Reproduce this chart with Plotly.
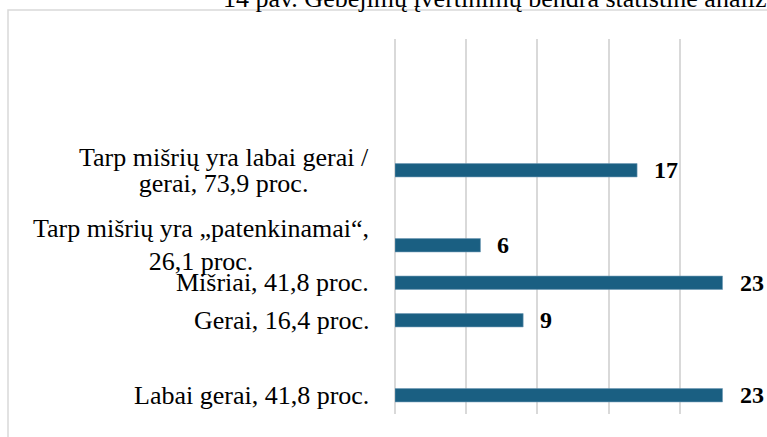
import plotly.graph_objects as go

# ---- data ----
categories = ["Tarp mišrių yra labai gerai /<br>gerai, 73,9 proc.",
              "Tarp mišrių yra „patenkinamai“,<br>26,1 proc.",
              "Mišriai, 41,8 proc.",
              "Gerai, 16,4 proc.",
              "Labai gerai, 41,8 proc."]
values = [17, 6, 23, 9, 23]
# category slots from top to bottom ("_g*" entries are empty gaps on the axis)
slot_order = ["_g9", "_g8", "_g7", categories[0], "_g5", categories[1],
              categories[2], categories[3], "_g1", categories[4]]
title_text = "14 pav. Gebėjimų įvertinimų bendra statistinė analizė"

# ---- style ----
BAR = "#1a5f82"
GRID = "#d9d9d9"
FONT = "Liberation Serif, Times New Roman, serif"
LABEL_SIZE = 26
VALUE_SIZE = 24
line_gap_base = [20, 25, 26, 26, 26]   # base font controlling line spacing per label

W, H = 767, 437
ML, MR, MT, MB = 395, 16, 39, 23
pw = W - ML - MR
ph = H - MT - MB

fig = go.Figure()
fig.add_trace(go.Bar(
    x=values, y=categories, orientation="h",
    marker=dict(color=BAR, line=dict(width=0.6, color="#6f9bb5")),
    hoverinfo="skip",
))

annotations = []
for c, v, base in zip(categories, values, line_gap_base):
    styled = "<br>".join('<span style="font-size:%dpx">%s</span>' % (LABEL_SIZE, part)
                         for part in c.split("<br>"))
    annotations.append(dict(x=0, xref="paper", y=c, yref="y", text=styled,
                            xanchor="right", yanchor="middle", align="center",
                            xshift=-24, showarrow=False,
                            font=dict(family=FONT, size=base, color="#000000")))
    annotations.append(dict(x=v, xref="x", y=c, yref="y", text="<b>%d</b>" % v,
                            xanchor="left", yanchor="middle", xshift=15,
                            showarrow=False,
                            font=dict(family=FONT, size=VALUE_SIZE, color="#000000")))

# title (cut off at the top of the frame)
annotations.append(dict(x=(222 - ML) / pw, xref="paper",
                        y=1 + (MT + 1) / ph, yref="paper",
                        text=title_text, xanchor="left", yanchor="middle",
                        showarrow=False, borderpad=0,
                        font=dict(family=FONT, size=26, color="#000000")))

fig.update_layout(
    width=W, height=H,
    margin=dict(l=ML, r=MR, t=MT, b=MB),
    paper_bgcolor="white", plot_bgcolor="white",
    showlegend=False,
    bargap=0.645,
    xaxis=dict(range=[0, 25], dtick=5, showgrid=True, gridcolor=GRID, gridwidth=1.5,
               showticklabels=False, zeroline=True, zerolinecolor=GRID,
               zerolinewidth=1.5, showline=False, ticks=""),
    yaxis=dict(type="category", categoryorder="array", categoryarray=slot_order[::-1],
               range=[-0.5, len(slot_order) - 0.5],
               showticklabels=False, showgrid=False, zeroline=False, ticks=""),
    annotations=annotations,
    shapes=[dict(type="rect", xref="paper", yref="paper",
                 x0=(8 - ML) / pw, x1=(W + 20 - ML) / pw,
                 y0=-(MB + 20) / ph, y1=1 + (MT - 10) / ph,
                 line=dict(color=GRID, width=1.5), fillcolor="rgba(0,0,0,0)",
                 layer="below")],
)

fig.write_html("out.html", config={"displayModeBar": False},
               post_script="document.body.style.margin='0';")
